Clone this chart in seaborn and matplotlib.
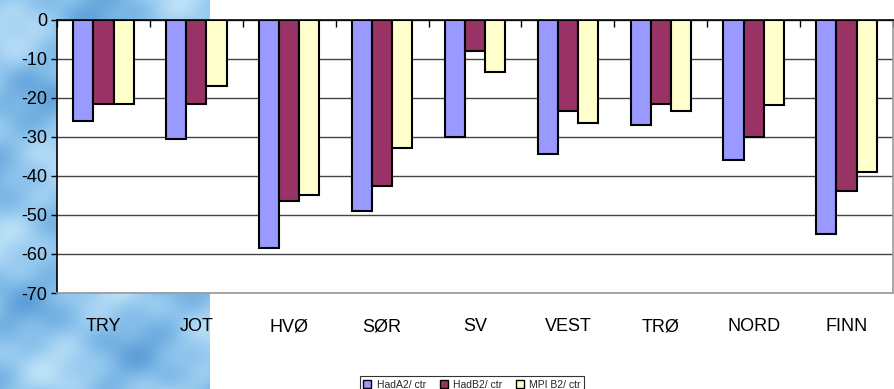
import numpy as np
import pandas as pd
import matplotlib
matplotlib.use("Agg")
import matplotlib.pyplot as plt
import seaborn as sns
from matplotlib.colors import LinearSegmentedColormap
from matplotlib.lines import Line2D

regions = ["TRY", "JOT", "HVØ", "SØR", "SV", "VEST", "TRØ", "NORD", "FINN"]
series = ["HadA2/ ctr", "HadB2/ ctr", "MPI B2/ ctr"]
had_a2 = [-26, -30.5, -58.5, -49, -30, -34.5, -27, -36, -55]
had_b2 = [-21.5, -21.5, -46.5, -42.5, -8, -23.5, -21.5, -30, -44]
mpi_b2 = [-21.5, -17, -45, -33, -13.5, -26.5, -23.5, -22, -39]
colors = ["#9999FF", "#993366", "#FFFFCC"]
yticks = list(range(-70, 1, 10))

df = pd.DataFrame({
    "region": regions * 3,
    "series": [series[0]] * 9 + [series[1]] * 9 + [series[2]] * 9,
    "value": had_a2 + had_b2 + mpi_b2,
})

sns.set_theme(style="white")
plt.rcParams["font.family"] = ["Liberation Sans", "DejaVu Sans"]

fig = plt.figure(figsize=(8.94, 3.89), dpi=100)
fig.patch.set_facecolor("white")

# decorative blue texture on the left
bg = fig.add_axes([0, 0, 210 / 894, 1], zorder=0)
yy, xx = np.mgrid[0:389, 0:210]
tex = (np.sin(xx / 23.0 + yy / 31.0) + np.sin(yy / 17.0 - xx / 41.0) * 0.8
       + np.sin((xx + yy) / 9.0) * 0.3 + np.cos(xx / 13.0 - yy / 7.0) * 0.25)
cmap = LinearSegmentedColormap.from_list("sky", ["#5d9fd8", "#8cc3ec", "#bfe2f8"])
bg.imshow(tex, cmap=cmap, aspect="auto")
bg.axis("off")

ax = fig.add_axes([57 / 894, 1 - 293 / 389, (893 - 57) / 894, (293 - 19.5) / 389], zorder=1)
ax.set_facecolor("white")

sns.barplot(data=df, x="region", y="value", hue="series", palette=colors,
            saturation=1, edgecolor="black", linewidth=1.5, width=0.65, ax=ax,
            legend=True, errorbar=None, zorder=3)

ax.set_ylim(-70, 0)
ax.set_xlim(-0.5, 8.5)
ax.set_yticks(yticks)
ax.set_yticklabels([str(v) for v in yticks], fontsize=13)
ax.set_xlabel("")
ax.set_ylabel("")
ax.yaxis.grid(True, color="#444444", linewidth=1)
ax.set_axisbelow(True)

ax.tick_params(axis="x", which="major", length=0, pad=18, labelsize=13, colors="black")
ax.tick_params(axis="y", which="major", left=True, length=4, width=1, direction="out",
               colors="black", pad=3)
ax.set_xticks(np.arange(-0.5, 9, 1), minor=True)
ax.tick_params(axis="x", which="minor", top=True, bottom=False, direction="in",
               length=5, width=1, color="black")

for s in ["left", "top"]:
    ax.spines[s].set_color("black")
    ax.spines[s].set_linewidth(1.2)
for s in ["right", "bottom"]:
    ax.spines[s].set_color("#999999")
    ax.spines[s].set_linewidth(1.2)
ax.spines["top"].set_zorder(5)

ax.get_legend().remove()
h2 = [Line2D([], [], marker="s", linestyle="", markersize=5.5, markerfacecolor=c,
             markeredgecolor="black", markeredgewidth=1) for c in colors]
leg = fig.legend(h2, series, loc="upper center", bbox_to_anchor=(472 / 894, 1 - 371 / 389),
                 ncol=3, fontsize=7.5, frameon=True, fancybox=False, handlelength=0.8,
                 handletextpad=0.5, columnspacing=1.3, borderpad=0.35)
leg.get_frame().set_edgecolor("black")
leg.get_frame().set_linewidth(0.8)

fig.savefig("out.png", dpi=100)
